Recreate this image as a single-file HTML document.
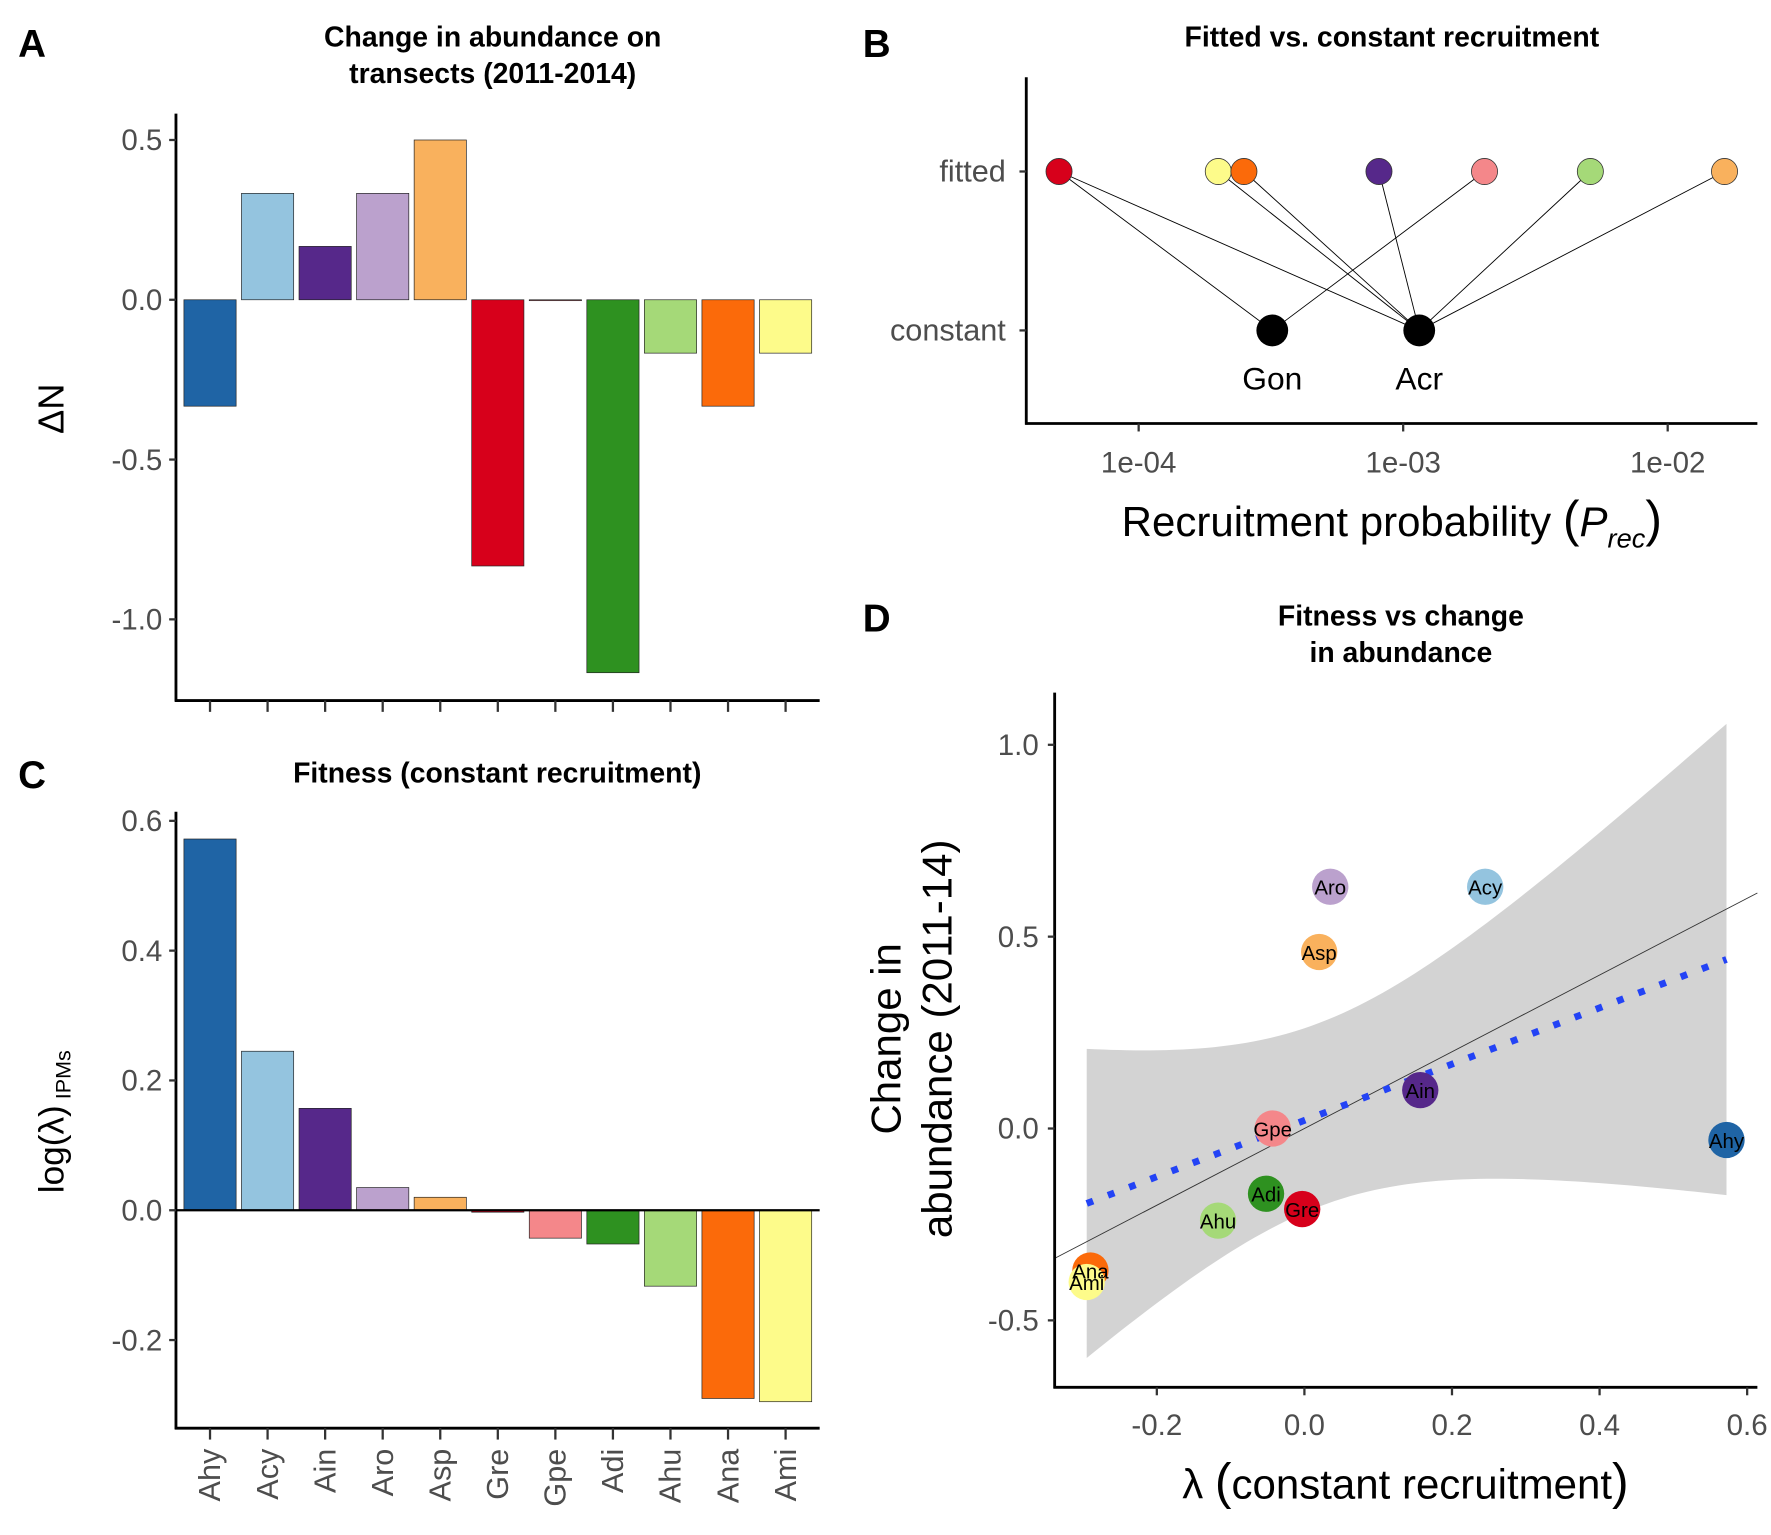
<!DOCTYPE html>
<html><head><meta charset="utf-8"><style>
html,body{margin:0;padding:0;background:#fff}
svg{display:block;font-family:"Liberation Sans",sans-serif}
</style></head><body>
<svg id="fig" width="1771" height="1535" viewBox="0 0 1560 1352" xmlns="http://www.w3.org/2000/svg">
<rect width="1560" height="1352" fill="#fff"/>
</svg>
<script>
const species=["Ahy","Acy","Ain","Aro","Asp","Gre","Gpe","Adi","Ahu","Ana","Ami"];
const colors=["#1f64a5","#94c4df","#56288a","#bba1cd","#f9b15d","#d7001b","#f4878a","#2e9120","#a5d978","#fb6a0a","#fdfb8a"];
const deltaN=[-0.333,0.333,0.167,0.333,0.5,-0.833,0,-1.167,-0.167,-0.333,-0.167];
const logLambda=[0.572,0.245,0.157,0.035,0.02,-0.003,-0.043,-0.052,-0.117,-0.29,-0.295];
const changeAbund=[-0.03,0.63,0.10,0.63,0.46,-0.21,0.0,-0.17,-0.24,-0.37,-0.40];
const ticksA=[0.5,0.0,-0.5,-1.0];
const ticksC=[0.6,0.4,0.2,0.0,-0.2];
const ticksDy=[1.0,0.5,0.0,-0.5];
const ticksDx=[-0.2,0.0,0.2,0.4,0.6];
const fittedSp=["Gre","Ami","Ana","Ain","Gpe","Ahu","Asp"];
const fittedP=[5.0e-5,2.0e-4,2.5e-4,8.1e-4,2.03e-3,5.1e-3,1.64e-2];
const constNames=["Gon","Acr"];
const constP=[3.2e-4,1.15e-3];
const links=[["Gre","Gon"],["Gre","Acr"],["Ami","Acr"],["Ana","Acr"],["Ain","Acr"],["Gpe","Gon"],["Ahu","Acr"],["Asp","Acr"]];
const ticksB=[1e-4,1e-3,1e-2];
const tickBLabels=["1e-04","1e-03","1e-02"];

const svg=document.getElementById('fig');
const NS="http://www.w3.org/2000/svg";
function el(tag,attrs,parent){const e=document.createElementNS(NS,tag);for(const k in attrs)e.setAttribute(k,attrs[k]);(parent||svg).appendChild(e);return e;}
function txt(s,attrs,parent){const e=el('text',attrs,parent);e.textContent=s;return e;}
function fmt(v,d){let s=v.toFixed(d);if(parseFloat(s)===0)s=(0).toFixed(d);return s;}
const tickCol="#4d4d4d";

// Panel A
const gA=el('g',{});

const catX=i=>185+i*50.7;
const yA=v=>264-v*281.5;
deltaN.forEach((v,i)=>{const r=el('rect',{x:catX(i)-23,y:Math.min(yA(v),yA(0)),width:46,height:Math.max(Math.abs(yA(v)-yA(0)),0.8),fill:colors[i],stroke:'#222','stroke-width':0.6},gA);
});
el('line',{x1:155,y1:100,x2:155,y2:618,stroke:'#000','stroke-width':2.5},gA);
el('line',{x1:154,y1:617,x2:722,y2:617,stroke:'#000','stroke-width':2.5},gA);
ticksA.forEach(t=>{el('line',{x1:149,x2:155,y1:yA(t),y2:yA(t),stroke:'#333','stroke-width':2},gA);txt(fmt(t,1),{x:143,y:yA(t)+9,'text-anchor':'end','font-size':26,fill:tickCol},gA);});
species.forEach((s,i)=>el('line',{x1:catX(i),x2:catX(i),y1:617,y2:627,stroke:'#333','stroke-width':2},gA));
txt('ΔN',{transform:'translate(56,360) rotate(-90)','text-anchor':'middle','font-size':32,fill:'#000'},gA);
txt('Change in abundance on',{x:434,y:41,'text-anchor':'middle','font-size':25,'font-weight':'bold'},gA);
txt('transects (2011-2014)',{x:434,y:73,'text-anchor':'middle','font-size':25,'font-weight':'bold'},gA);
txt('A',{x:16,y:50,'font-size':34,'font-weight':'bold'},gA);

// Panel C
const gC=el('g',{});

const yC=v=>1066-v*571.7;
logLambda.forEach((v,i)=>{const r=el('rect',{x:catX(i)-23,y:Math.min(yC(v),yC(0)),width:46,height:Math.max(Math.abs(yC(v)-yC(0)),0.8),fill:colors[i],stroke:'#222','stroke-width':0.6},gC);
});
el('line',{x1:155,x2:722,y1:yC(0),y2:yC(0),stroke:'#000','stroke-width':2},gC);
el('line',{x1:155,y1:715,x2:155,y2:1259,stroke:'#000','stroke-width':2.5},gC);
el('line',{x1:154,y1:1258,x2:722,y2:1258,stroke:'#000','stroke-width':2.5},gC);
ticksC.forEach(t=>{el('line',{x1:149,x2:155,y1:yC(t),y2:yC(t),stroke:'#333','stroke-width':2},gC);txt(fmt(t,1),{x:143,y:yC(t)+9,'text-anchor':'end','font-size':26,fill:tickCol},gC);});
species.forEach((s,i)=>{el('line',{x1:catX(i),x2:catX(i),y1:1258,y2:1268,stroke:'#333','stroke-width':2},gC);
const t=txt(s,{transform:`translate(${catX(i)+9},1276) rotate(-90)`,'text-anchor':'end','font-size':27,fill:tickCol},gC);
});
const yl=el('text',{transform:'translate(56,988) rotate(-90)','text-anchor':'middle','font-size':31,fill:'#000'},gC);
yl.innerHTML='log(λ)<tspan font-size="19" dy="6"> IPMs</tspan>';

txt('Fitness (constant recruitment)',{x:438,y:689,'text-anchor':'middle','font-size':25,'font-weight':'bold'},gC);
txt('C',{x:16,y:694,'font-size':34,'font-weight':'bold'},gC);

// Panel B
const gB=el('g',{});

const xB=p=>1003+(Math.log10(p)+4)*233;
const yFit=151,yCon=291;
links.forEach(([a,b])=>{const i=fittedSp.indexOf(a),j=constNames.indexOf(b);
el('line',{x1:xB(fittedP[i]),y1:yFit,x2:xB(constP[j]),y2:yCon,stroke:'#000','stroke-width':0.8},gB);});
fittedSp.forEach((s,i)=>{const c=el('circle',{cx:xB(fittedP[i]),cy:yFit,r:11.5,fill:colors[species.indexOf(s)],stroke:'#333','stroke-width':0.7},gB);
});
constNames.forEach((s,i)=>{const c=el('circle',{cx:xB(constP[i]),cy:yCon,r:14,fill:'#000'},gB);

txt(s,{x:xB(constP[i]),y:343,'text-anchor':'middle','font-size':28,fill:'#000'},gB);});
el('line',{x1:904,y1:68,x2:904,y2:374,stroke:'#000','stroke-width':2.5},gB);
el('line',{x1:903,y1:373,x2:1548,y2:373,stroke:'#000','stroke-width':2.5},gB);
[[yFit,'fitted'],[yCon,'constant']].forEach(([y,s])=>{el('line',{x1:898,x2:904,y1:y,y2:y,stroke:'#333','stroke-width':2},gB);txt(s,{x:886,y:y+9,'text-anchor':'end','font-size':27,fill:tickCol},gB);});
ticksB.forEach((t,i)=>{el('line',{x1:xB(t),x2:xB(t),y1:373,y2:380,stroke:'#333','stroke-width':2},gB);txt(tickBLabels[i],{x:xB(t),y:416,'text-anchor':'middle','font-size':26,fill:tickCol},gB);});
const xt=txt('',{x:1226,y:472,'text-anchor':'middle','font-size':37,fill:'#000'},gB);
xt.innerHTML='Recruitment probability <tspan font-size="44">(</tspan><tspan font-style="italic">P</tspan><tspan font-style="italic" font-size="24" dy="10">rec</tspan><tspan font-size="44" dy="-10">)</tspan>';
txt('Fitted vs. constant recruitment',{x:1226,y:41,'text-anchor':'middle','font-size':25,'font-weight':'bold'},gB);
txt('B',{x:760,y:50,'font-size':34,'font-weight':'bold'},gB);

// Panel D
const gD=el('g',{});

const xD=v=>1149+v*650, yD=v=>994-v*338;
const n=logLambda.length,mx=logLambda.reduce((a,b)=>a+b)/n,my=changeAbund.reduce((a,b)=>a+b)/n;
let sxx=0,sxy=0;logLambda.forEach((x,i)=>{sxx+=(x-mx)**2;sxy+=(x-mx)*(changeAbund[i]-my);});
const slope=sxy/sxx,icpt=my-slope*mx;
let sse=0;logLambda.forEach((x,i)=>{sse+=(changeAbund[i]-icpt-slope*x)**2;});
const se=Math.sqrt(sse/(n-2)),tq=2.262;
const xmin=Math.min(...logLambda),xmax=Math.max(...logLambda);
let up=[],lo=[];
for(let k=0;k<=80;k++){const x=xmin+(xmax-xmin)*k/80;const m=icpt+slope*x;const h=tq*se*Math.sqrt(1/n+(x-mx)**2/sxx);
up.push(`${xD(x)},${yD(m+h)}`);lo.unshift(`${xD(x)},${yD(m-h)}`);}
const rib=el('polygon',{points:up.concat(lo).join(' '),fill:'#d3d3d3'},gD);

const ol=el('line',{x1:929,y1:yD((929-1149)/650),x2:1548,y2:yD((1548-1149)/650),stroke:'#333','stroke-width':0.8},gD);

const fl=el('line',{x1:xD(xmin),y1:yD(icpt+slope*xmin),x2:xD(xmax),y2:yD(icpt+slope*xmax),stroke:'#2343f5','stroke-width':6,'stroke-dasharray':'6 14'},gD);

species.forEach((s,i)=>{const c=el('circle',{cx:xD(logLambda[i]),cy:yD(changeAbund[i]),r:16,fill:colors[i]},gD);
});
species.forEach((s,i)=>txt(s,{x:xD(logLambda[i]),y:yD(changeAbund[i])+7,'text-anchor':'middle','font-size':18,fill:'#000'},gD));
el('line',{x1:929,y1:610,x2:929,y2:1223,stroke:'#000','stroke-width':2.5},gD);
el('line',{x1:928,y1:1222,x2:1548,y2:1222,stroke:'#000','stroke-width':2.5},gD);
ticksDy.forEach(t=>{el('line',{x1:923,x2:929,y1:yD(t),y2:yD(t),stroke:'#333','stroke-width':2},gD);txt(fmt(t,1),{x:915,y:yD(t)+9,'text-anchor':'end','font-size':26,fill:tickCol},gD);});
ticksDx.forEach(t=>{el('line',{x1:xD(t),x2:xD(t),y1:1222,y2:1229,stroke:'#333','stroke-width':2},gD);txt(fmt(t,1),{x:xD(t),y:1264,'text-anchor':'middle','font-size':26,fill:tickCol},gD);});
txt('Change in',{transform:'translate(793,915) rotate(-90)','text-anchor':'middle','font-size':37,fill:'#000'},gD);
txt('abundance (2011-14)',{transform:'translate(838,915) rotate(-90)','text-anchor':'middle','font-size':37,fill:'#000'},gD);
const dx=txt('',{x:1238,y:1320,'text-anchor':'middle','font-size':37,fill:'#000'},gD);
dx.innerHTML='λ <tspan font-size="44">(</tspan>constant recruitment<tspan font-size="44">)</tspan>';
txt('Fitness vs change',{x:1234,y:551,'text-anchor':'middle','font-size':25,'font-weight':'bold'},gD);
txt('in abundance',{x:1234,y:583,'text-anchor':'middle','font-size':25,'font-weight':'bold'},gD);
txt('D',{x:760,y:556,'font-size':34,'font-weight':'bold'},gD);
</script>
</body></html>
